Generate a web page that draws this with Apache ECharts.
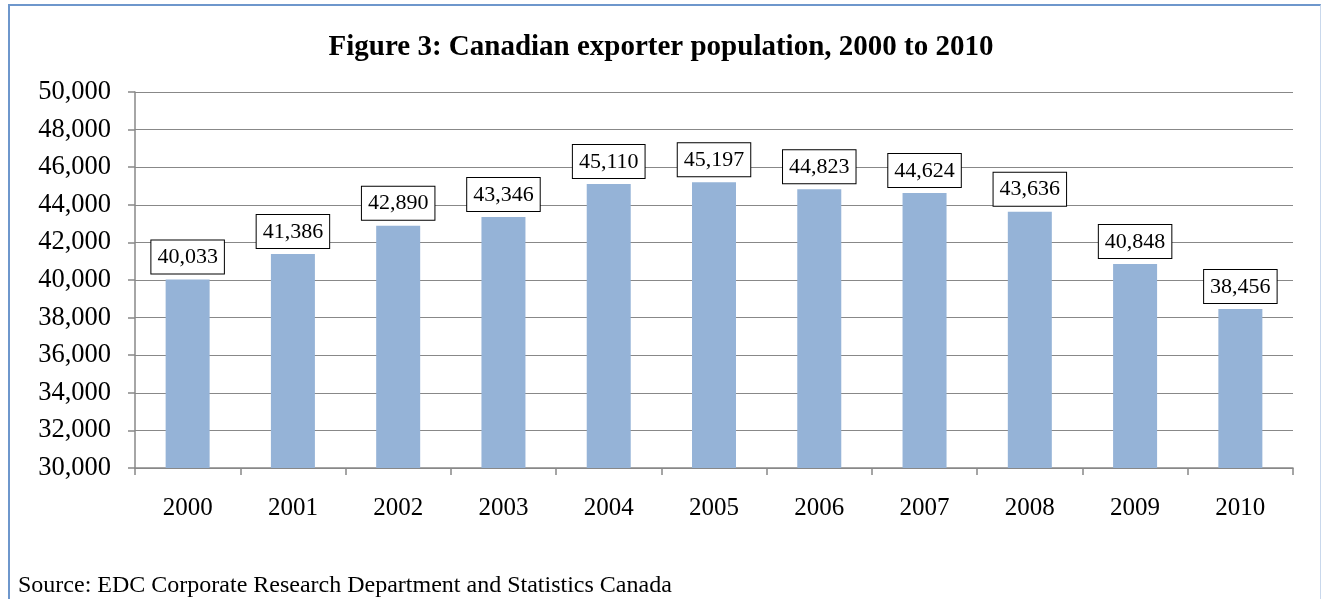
<!DOCTYPE html>
<html>
<head>
<meta charset="utf-8">
<title>Figure 3</title>
<script src="https://cdn.jsdelivr.net/npm/echarts@6/dist/echarts.min.js"></script>
<style>
    html, body {
        margin: 0;
        padding: 0;
        background: #fff;
        overflow: hidden;
    }
    #frame {
        position: absolute;
        left: 8px;
        top: 4px;
        width: 1310px;
        height: 640px;
        border-left: 2px solid #6e97cc;
        border-top: 2px solid #6e97cc;
        border-right: 1px solid #c9d8ec;
    }
    #chart {
        position: absolute;
        left: 0;
        top: 0;
        width: 1322px;
        height: 599px;
    }
</style>
</head>
<body>
<div id="frame"></div>
<div id="chart"></div>
<script>
    // 数据
    var years = ['2000', '2001', '2002', '2003', '2004', '2005', '2006', '2007', '2008', '2009', '2010'];
    var exporters = [40033, 41386, 42890, 43346, 45110, 45197, 44823, 44624, 43636, 40848, 38456];
    var yMin = 30000;
    var yMax = 50000;
    var yStep = 2000;

    var serif = '"Liberation Serif", "Times New Roman", serif';
    var gridColor = '#888888';

    function fmt(v) {
        return Number(v).toLocaleString('en-US');
    }

    var mychart = echarts.init(document.getElementById('chart'));
    var option = {
        backgroundColor: 'transparent',
        animation: false,
        title: {
            text: 'Figure 3: Canadian exporter population, 2000 to 2010',
            left: 'center',
            top: 28,
            textStyle: {
                fontFamily: serif,
                fontSize: 29,
                fontWeight: 'bold',
                color: '#000'
            }
        },
        graphic: [{
            type: 'text',
            left: 18,
            top: 574,
            style: {
                text: 'Source: EDC Corporate Research Department and Statistics Canada',
                font: '24px ' + serif,
                fill: '#000'
            }
        }],
        grid: {
            left: 135,
            right: 29,
            top: 92,
            bottom: 131
        },
        xAxis: {
            type: 'category',
            data: years,
            boundaryGap: true,
            axisLine: {lineStyle: {color: gridColor, width: 1.5}},
            axisTick: {show: true, length: 7, lineStyle: {color: gridColor, width: 1.5}},
            axisLabel: {
                margin: 28,
                fontFamily: serif,
                fontSize: 25,
                color: '#000'
            }
        },
        yAxis: {
            type: 'value',
            min: yMin,
            max: yMax,
            interval: yStep,
            axisLine: {show: true, lineStyle: {color: gridColor, width: 1.5}},
            axisTick: {show: true, length: 7, lineStyle: {color: gridColor, width: 1.5}},
            splitLine: {show: true, lineStyle: {color: gridColor, width: 1.2}},
            axisLabel: {
                margin: 24,
                fontFamily: serif,
                fontSize: 26.5,
                color: '#000',
                formatter: fmt
            }
        },
        series: [{
            type: 'bar',
            data: exporters,
            barWidth: 44,
            itemStyle: {color: '#95b3d7'},
            label: {
                show: true,
                position: 'top',
                distance: 6,
                formatter: function (p) { return fmt(p.value); },
                fontFamily: serif,
                fontSize: 22,
                color: '#000',
                backgroundColor: '#fff',
                borderColor: '#000',
                borderWidth: 1,
                padding: [6, 6, 5, 6]
            }
        }]
    };
    mychart.setOption(option);
</script>
</body>
</html>
